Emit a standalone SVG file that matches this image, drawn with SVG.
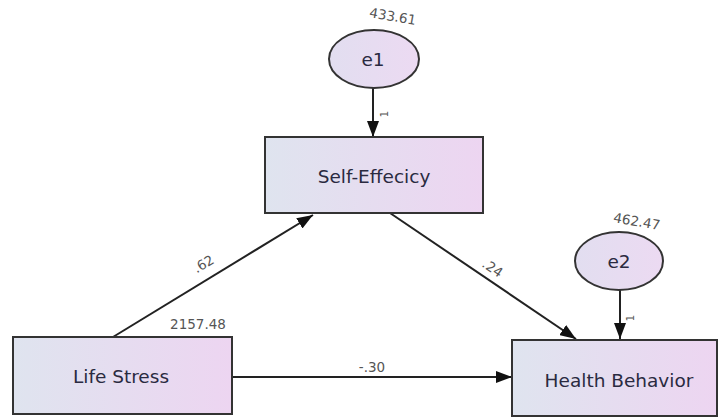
<svg xmlns="http://www.w3.org/2000/svg" width="720" height="417" viewBox="0 0 720 417">
<defs>
<linearGradient id="bg" x1="0" y1="0" x2="1" y2="0">
<stop offset="0" stop-color="#dfe4ef"/>
<stop offset="1" stop-color="#edd5f1"/>
</linearGradient>
<linearGradient id="eg" x1="0" y1="0" x2="1" y2="0">
<stop offset="0" stop-color="#e2def0"/>
<stop offset="1" stop-color="#ecdaf2"/>
</linearGradient>
<marker id="ahb" viewBox="0 0 16 12" refX="16" refY="6" markerWidth="16" markerHeight="12" markerUnits="userSpaceOnUse" orient="auto">
<path d="M0,0 L16,6 L0,12 z" fill="#111"/>
</marker>
</defs>
<style>
.box{fill:url(#bg);stroke:#333;stroke-width:2}
.ell{fill:url(#eg);stroke:#333;stroke-width:2}
.t{font-family:"DejaVu Sans",Verdana,sans-serif;font-size:18.5px;fill:#2a2a40;text-anchor:middle}
.n{font-family:"DejaVu Sans",Verdana,sans-serif;font-size:13.5px;fill:#555;text-anchor:middle}
.c{stroke:#222;stroke-width:2;fill:none}
</style>
<rect width="720" height="417" fill="#fff"/>
<g id="connectors">
<line class="c" x1="373" y1="88" x2="373" y2="137" marker-end="url(#ahb)"/>
<line class="c" x1="620" y1="290" x2="620" y2="339" marker-end="url(#ahb)"/>
<line class="c" x1="113" y1="337" x2="313" y2="215" marker-end="url(#ahb)"/>
<line class="c" x1="390" y1="213" x2="576" y2="339" marker-end="url(#ahb)"/>
<line class="c" x1="232" y1="377" x2="512" y2="377" marker-end="url(#ahb)"/>
<text class="n" transform="translate(206,268) rotate(-31)">.62</text>
<text class="n" transform="translate(490,272) rotate(34)">.24</text>
<text class="n" x="372" y="372">-.30</text>
<text class="n" transform="translate(388,114) rotate(-90)" style="font-size:10px">1</text>
<text class="n" transform="translate(634,318) rotate(-90)" style="font-size:10px">1</text>
</g>
<g id="e1">
<ellipse class="ell" cx="374" cy="59" rx="45" ry="29"/>
<text class="t" x="373" y="66">e1</text>
<text class="n" transform="translate(392,21) rotate(10)">433.61</text>
</g>
<g id="e2">
<ellipse class="ell" cx="619" cy="261" rx="44" ry="29"/>
<text class="t" x="619" y="268">e2</text>
<text class="n" transform="translate(636,226) rotate(10)">462.47</text>
</g>
<g id="self-effecicy">
<rect class="box" x="265" y="137" width="218" height="76"/>
<text class="t" x="374" y="183">Self-Effecicy</text>
</g>
<g id="life-stress">
<rect class="box" x="13" y="337" width="219" height="77"/>
<text class="t" x="121" y="383">Life Stress</text>
<text class="n" x="198" y="329">2157.48</text>
</g>
<g id="health-behavior">
<rect class="box" x="512" y="340" width="205" height="76"/>
<text class="t" x="619" y="387">Health Behavior</text>
</g>
</svg>
